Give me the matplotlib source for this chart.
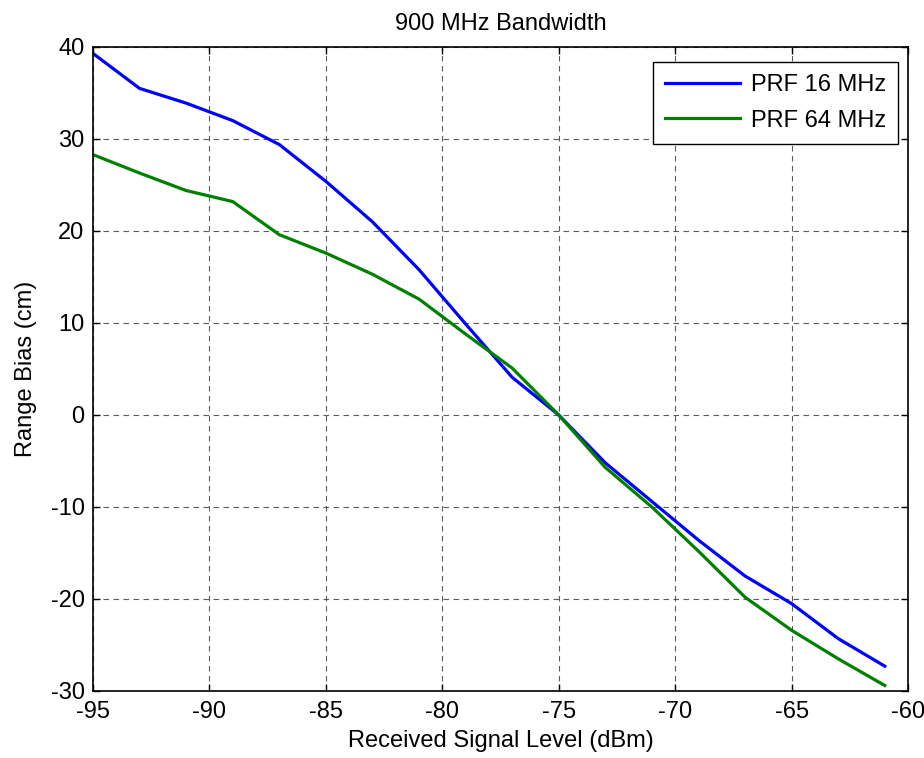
import matplotlib
matplotlib.use("Agg")
import matplotlib.pyplot as plt

rx_level = [-95, -93, -91, -89, -87, -85, -83, -81, -79, -77, -75, -73, -71, -69, -67, -65, -63, -61]
bias_prf16 = [39.3, 35.5, 33.9, 32.0, 29.4, 25.4, 21.0, 15.8, 9.9, 4.1, 0.0, -5.2, -9.4, -13.6, -17.5, -20.5, -24.3, -27.3]
bias_prf64 = [28.3, 26.3, 24.4, 23.2, 19.6, 17.6, 15.3, 12.6, 8.8, 5.1, 0.0, -5.7, -10.0, -14.8, -19.8, -23.4, -26.5, -29.4]
labels = ["PRF 16 MHz", "PRF 64 MHz"]
xticks = [-95, -90, -85, -80, -75, -70, -65, -60]
yticks = [-30, -20, -10, 0, 10, 20, 30, 40]

plt.rcParams['font.family'] = ['Liberation Sans', 'DejaVu Sans']
plt.rcParams['axes.unicode_minus'] = False

FS = 17

fig = plt.figure(figsize=(9.24, 7.58), dpi=100)
ax = fig.add_axes([0.1006, 0.0884, 0.8821, 0.8496])

ax.plot(rx_level, bias_prf16, color='#0000ff', lw=2.3, label=labels[0])
ax.plot(rx_level, bias_prf64, color='#008000', lw=2.3, label=labels[1])

ax.set_xlim(-95, -60)
ax.set_ylim(-30, 40)
ax.set_xticks(xticks)
ax.set_yticks(yticks)
ax.tick_params(direction='in', top=True, right=True, labelsize=FS, length=5, width=1)
ax.tick_params(axis='x', pad=7)
ax.tick_params(axis='y', pad=6)
ax.grid(True, linestyle=(0, (5, 4)), color='#333333', linewidth=0.8, alpha=0.8)
for s in ax.spines.values():
    s.set_linewidth(1.2)

ax.set_xlabel('Received Signal Level (dBm)', fontsize=FS, labelpad=5)
ax.set_ylabel('Range Bias (cm)', fontsize=FS, labelpad=10)
ax.set_title('900 MHz Bandwidth', fontsize=FS, pad=12)

leg = ax.legend(loc='upper right', fontsize=FS, fancybox=False, framealpha=1,
                edgecolor='black', handlelength=3.2, handletextpad=0.45,
                borderpad=0.5, labelspacing=0.57, borderaxespad=0,
                bbox_to_anchor=(0.9877, 0.976))
leg.get_frame().set_linewidth(1.0)

fig.savefig('out.png', dpi=100)
